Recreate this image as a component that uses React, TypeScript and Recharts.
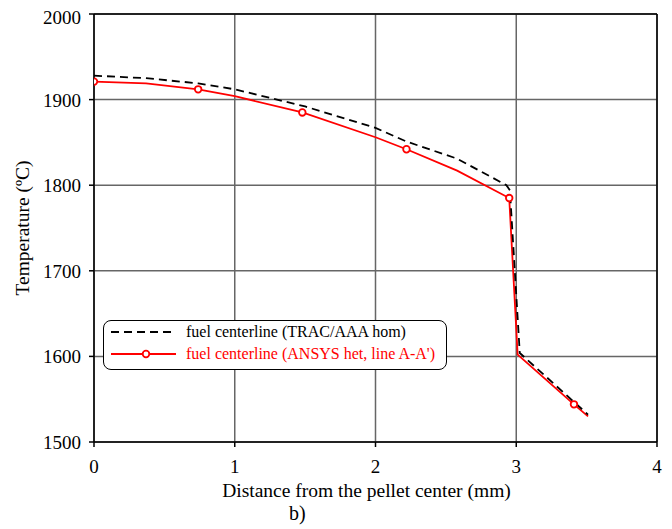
import { CartesianGrid, Label, Legend, Line, LineChart, ReferenceLine, XAxis, YAxis } from "recharts";

// distance (mm) / temperature (ºC)
const tracX = [0, 0.37, 0.74, 1.0, 1.5, 2.0, 2.22, 2.58, 2.93, 2.955, 3.025, 3.51];
const tracT = [1928, 1925, 1919, 1912, 1892, 1867, 1851, 1831, 1800, 1794, 1604, 1532];

const ansysX = [0, 0.37, 0.74, 1.0, 1.48, 2.0, 2.22, 2.58, 2.95, 3.01, 3.41, 3.51];
const ansysT = [1921, 1919, 1912, 1904, 1885, 1856, 1842, 1817, 1785, 1602, 1544, 1530];
const ansysMarked = [true, false, true, false, true, false, true, false, true, false, true, false];

const distTicks = [0, 1, 2, 3, 4];
const tempTicks = [1500, 1600, 1700, 1800, 1900, 2000];

const tracLabel = "fuel centerline (TRAC/AAA hom)";
const ansysLabel = "fuel centerline (ANSYS het, line A-A')";

const FONT = '"Liberation Serif", "Times New Roman", serif';
const RED = "#ff0000";

const tracData = tracX.map((x, i) => ({ x, t: tracT[i] }));
const ansysData = ansysX.map((x, i) => ({ x, t: ansysT[i], marked: ansysMarked[i] }));

// plain svg tick text so the serif font is applied for sure
function XTick({ x, y, payload }: any) {
  return (
    <text x={x} y={y + 24} textAnchor="middle" fill="#000" fontSize={19} fontFamily={FONT}>
      {payload.value}
    </text>
  );
}

function YTick({ x, y, payload }: any) {
  return (
    <text x={x - 8} y={y + 7} textAnchor="end" fill="#000" fontSize={19} fontFamily={FONT}>
      {payload.value}
    </text>
  );
}

function MarkerDot(props: any) {
  const { cx, cy, payload, index } = props;
  if (!payload?.marked) return <g key={`d${index}`} />;
  return <circle key={`d${index}`} cx={cx} cy={cy} r={3.3} fill="#fff" stroke={RED} strokeWidth={1.8} />;
}

function LegendBox() {
  return (
    <div
      style={{
        width: 342,
        height: 48,
        border: "1px solid #000",
        borderRadius: 8,
        background: "#fff",
        fontFamily: FONT,
        fontSize: 16,
        position: "relative",
      }}
    >
      <svg width={80} height={48} style={{ position: "absolute", left: 0, top: 0 }}>
        <line x1={7} y1={11} x2={72} y2={11} stroke="#000" strokeWidth={1.8} strokeDasharray="8 5" />
        <line x1={7} y1={33} x2={72} y2={33} stroke={RED} strokeWidth={1.8} />
        <circle cx={42} cy={33} r={3.3} fill="#fff" stroke={RED} strokeWidth={1.8} />
      </svg>
      <div style={{ position: "absolute", left: 82, top: 1, lineHeight: "20px", color: "#000", whiteSpace: "nowrap" }}>
        {tracLabel}
      </div>
      <div style={{ position: "absolute", left: 82, top: 23, lineHeight: "20px", color: RED, whiteSpace: "nowrap" }}>
        {ansysLabel}
      </div>
    </div>
  );
}

export default function App() {
  return (
    <div style={{ position: "relative", width: 664, height: 521, fontFamily: FONT }}>
      <LineChart width={664} height={500} margin={{ top: 6, right: 15, left: 0, bottom: 26 }}>
        <CartesianGrid stroke="#666" strokeWidth={1.5} />
        <XAxis
          type="number"
          dataKey="x"
          domain={[0, 4]}
          ticks={distTicks}
          allowDataOverflow
          height={40}
          tickSize={5}
          stroke="#000"
          strokeWidth={1.5}
          tick={<XTick />}
        >
          <Label
            value="Distance from the pellet center (mm)"
            position="center"
            dx={-9}
            dy={28}
            style={{ fill: "#000", fontSize: 19.5, fontFamily: FONT }}
          />
        </XAxis>
        <YAxis
          type="number"
          dataKey="t"
          domain={[1500, 2000]}
          ticks={tempTicks}
          allowDataOverflow
          width={86}
          tickSize={5}
          tickMargin={0}
          stroke="#000"
          strokeWidth={1.5}
          tick={<YTick />}
        >
          <Label
            value="Temperature (ºC)"
            angle={-90}
            position="center"
            dx={-29}
            style={{ fill: "#000", fontSize: 19.5, fontFamily: FONT, textAnchor: "middle" }}
          />
        </YAxis>
        <ReferenceLine y={2000} stroke="#000" strokeWidth={1.5} />
        <ReferenceLine x={4} stroke="#000" strokeWidth={1.5} />
        <Legend
          verticalAlign="middle"
          align="center"
          content={() => <LegendBox />}
          wrapperStyle={{ left: 95, top: 312, width: 344 }}
        />
        <Line
          data={ansysData}
          dataKey="t"
          type="linear"
          stroke={RED}
          strokeWidth={1.8}
          dot={MarkerDot}
          activeDot={false}
          isAnimationActive={false}
        />
        <Line
          data={tracData}
          dataKey="t"
          type="linear"
          stroke="#000"
          strokeWidth={1.8}
          strokeDasharray="8 5"
          dot={false}
          activeDot={false}
          isAnimationActive={false}
        />
      </LineChart>
      <div
        style={{
          position: "absolute",
          left: 281,
          top: 494,
          fontSize: 20,
          fontFamily: FONT,
          color: "#000",
        }}
      >
        b)
      </div>
    </div>
  );
}
